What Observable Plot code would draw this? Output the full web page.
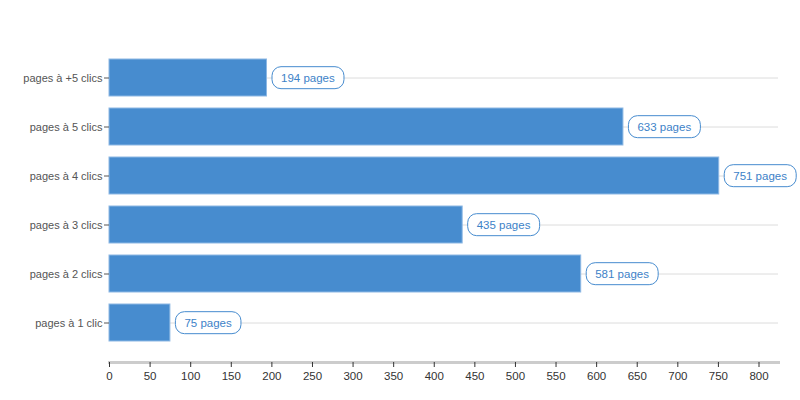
<!DOCTYPE html>
<html>
<head>
<meta charset="utf-8">
<script src="https://cdn.jsdelivr.net/npm/d3@7"></script>
<script src="https://cdn.jsdelivr.net/npm/@observablehq/plot@0.6"></script>
<style>
  html, body { margin: 0; padding: 0; background: #fff; }
  #chart { width: 800px; height: 400px; }
</style>
</head>
<body>
<div id="chart"></div>
<script>
const categories = ["pages à +5 clics", "pages à 5 clics", "pages à 4 clics", "pages à 3 clics", "pages à 2 clics", "pages à 1 clic"];
const values = [194, 633, 751, 435, 581, 75];
const xTicks = [0, 50, 100, 150, 200, 250, 300, 350, 400, 450, 500, 550, 600, 650, 700, 750, 800];
const labelSuffix = " pages";

const data = categories.map((c, i) => ({category: c, value: values[i]}));

const chart = Plot.plot({
  width: 800,
  height: 400,
  marginLeft: 109,
  marginRight: 22,
  marginTop: 38,
  marginBottom: 38,
  style: {fontFamily: "Arial, 'Liberation Sans', sans-serif", fontSize: "11px", background: "#fff"},
  x: {domain: [0, 824], ticks: xTicks, label: null},
  y: {domain: categories, paddingInner: 0.25, paddingOuter: 0.41, label: null},
  marks: [
    Plot.gridY({stroke: "#dcdcdc", strokeOpacity: 1}),
    Plot.barX(data, {y: "category", x: "value", fill: "#478ccf", stroke: "#8db8e4", strokeWidth: 1, inset: 0}),
    Plot.text(data, {y: "category", x: "value", text: d => d.value + labelSuffix, textAnchor: "start", dx: 14, fill: "#3d82c8", fontSize: 11.5, className: "vlabel"}),
    Plot.frame({anchor: "bottom", stroke: "#cccccc", strokeWidth: 3}),
    Plot.axisX({ticks: xTicks, tickSize: 5, tickPadding: 4, color: "#333", fontSize: 11.5, label: null}),
    Plot.axisY({tickSize: 5, tickPadding: 2, color: "#555", fontSize: 11, label: null})
  ]
});

document.getElementById("chart").appendChild(chart);

// rounded label boxes behind each value label
d3.select(chart).selectAll("g.vlabel text").each(function() {
  const bb = this.getBBox();
  const padX = 9, h = 22;
  d3.select(this.parentNode).insert("rect", () => this)
    .attr("transform", this.getAttribute("transform"))
    .attr("x", bb.x - padX)
    .attr("y", bb.y + bb.height / 2 - h / 2)
    .attr("width", bb.width + 2 * padX)
    .attr("height", h)
    .attr("rx", 9)
    .attr("ry", 9)
    .attr("fill", "#fff")
    .attr("stroke", "#478ccf")
    .attr("stroke-width", 1);
});
</script>
</body>
</html>
